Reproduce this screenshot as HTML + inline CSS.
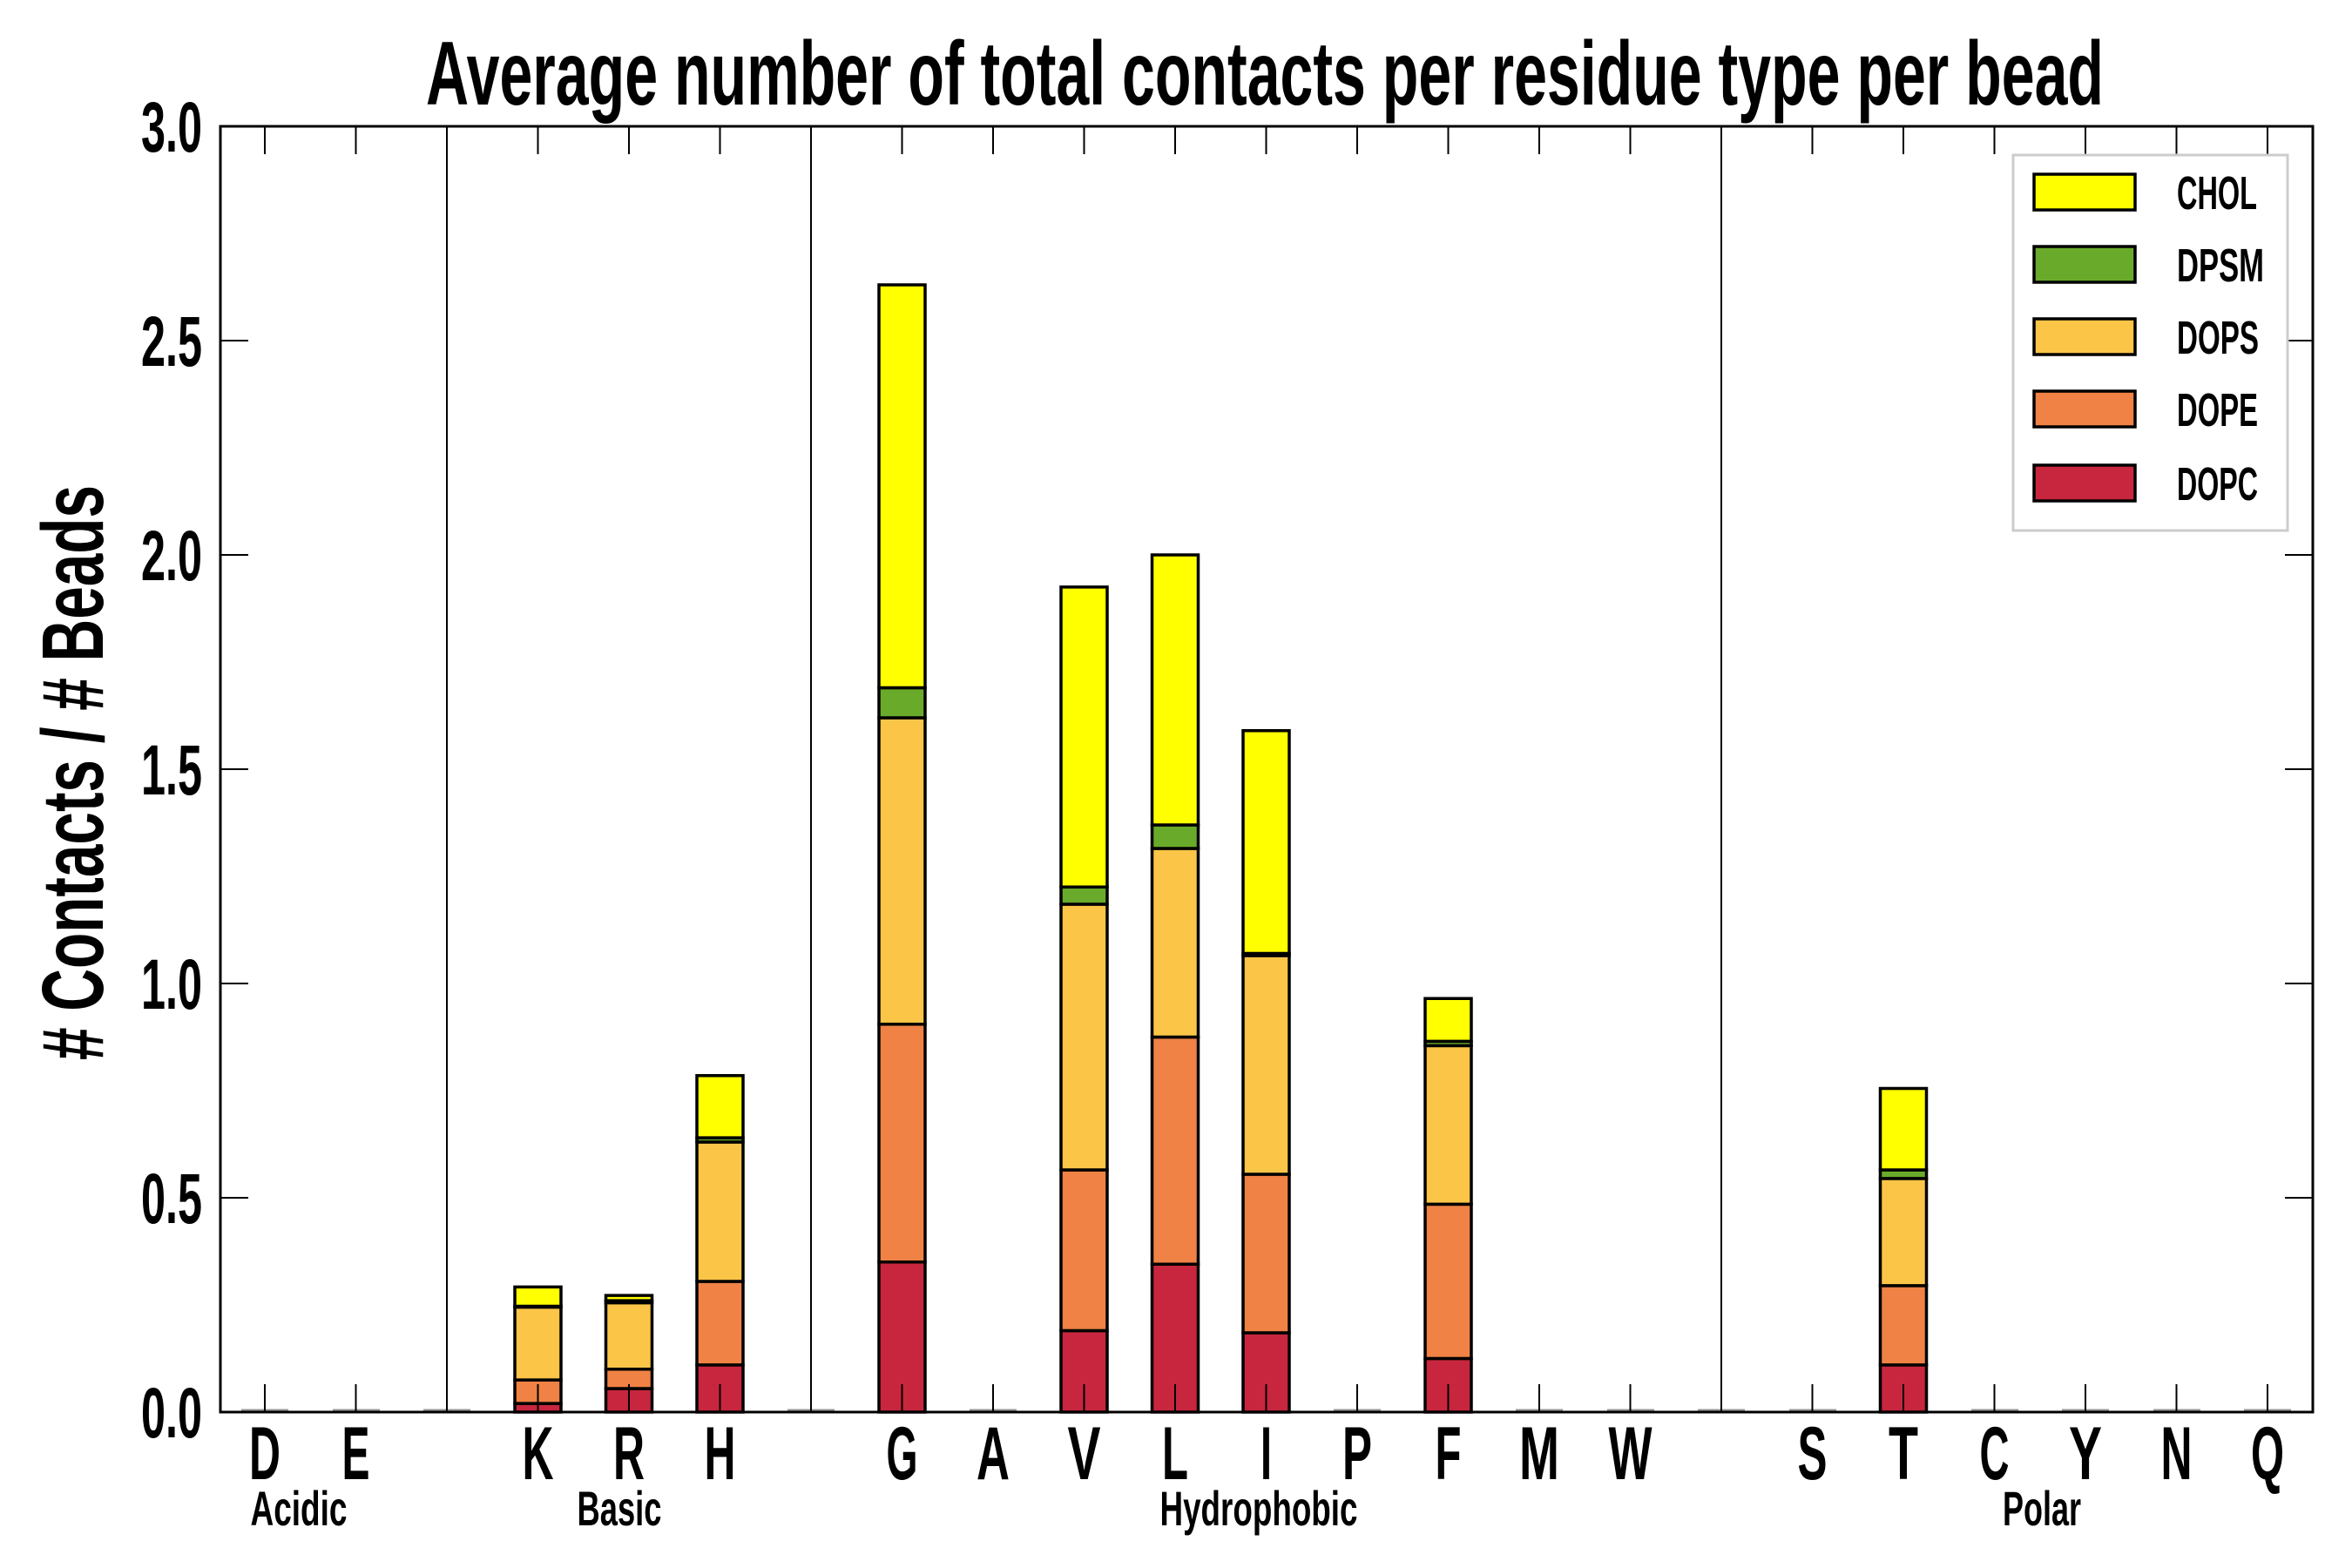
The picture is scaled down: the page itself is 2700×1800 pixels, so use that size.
<!DOCTYPE html>
<html><head><meta charset="utf-8"><style>
html,body{margin:0;padding:0;background:#fff}
svg{display:block}
text{font-family:"Liberation Sans Narrow","Liberation Sans",sans-serif;font-weight:bold;fill:#000}
</style></head><body>
<svg width="2700" height="1800" viewBox="0 0 2700 1800" xmlns="http://www.w3.org/2000/svg">
<rect width="2700" height="1800" fill="#fff"/>
<text x="1452" y="120" font-size="104" text-anchor="middle" textLength="1926" lengthAdjust="spacingAndGlyphs">Average number of total contacts per residue type per bead</text>
<text transform="translate(118,887) rotate(-90)" font-size="100" text-anchor="middle" textLength="660" lengthAdjust="spacingAndGlyphs"># Contacts / # Beads</text>
<g font-size="82" text-anchor="end">
<text x="232" y="174" textLength="70" lengthAdjust="spacingAndGlyphs">3.0</text>
<text x="232" y="420" textLength="70" lengthAdjust="spacingAndGlyphs">2.5</text>
<text x="232" y="666" textLength="70" lengthAdjust="spacingAndGlyphs">2.0</text>
<text x="232" y="912" textLength="70" lengthAdjust="spacingAndGlyphs">1.5</text>
<text x="232" y="1158" textLength="70" lengthAdjust="spacingAndGlyphs">1.0</text>
<text x="232" y="1404" textLength="70" lengthAdjust="spacingAndGlyphs">0.5</text>
<text x="232" y="1650" textLength="70" lengthAdjust="spacingAndGlyphs">0.0</text>
</g>
<g stroke="#999" stroke-width="3">
<line x1="277" x2="331" y1="1619" y2="1619"/><line x1="382" x2="436" y1="1619" y2="1619"/><line x1="486" x2="540" y1="1619" y2="1619"/>
<line x1="904" x2="958" y1="1619" y2="1619"/><line x1="1113" x2="1167" y1="1619" y2="1619"/><line x1="1531" x2="1585" y1="1619" y2="1619"/>
<line x1="1740" x2="1794" y1="1619" y2="1619"/><line x1="1845" x2="1899" y1="1619" y2="1619"/><line x1="1949" x2="2003" y1="1619" y2="1619"/>
<line x1="2054" x2="2108" y1="1619" y2="1619"/><line x1="2263" x2="2317" y1="1619" y2="1619"/><line x1="2367" x2="2421" y1="1619" y2="1619"/>
<line x1="2472" x2="2526" y1="1619" y2="1619"/><line x1="2576" x2="2630" y1="1619" y2="1619"/>
</g>
<g transform="translate(0,1621) scale(1,-492)" stroke="#000" stroke-width="3.5">
<g fill="#c8263e">
<rect vector-effect="non-scaling-stroke" x="591" width="53" y="0" height="0.02"/>
<rect vector-effect="non-scaling-stroke" x="695.5" width="53" y="0" height="0.055"/>
<rect vector-effect="non-scaling-stroke" x="800" width="53" y="0" height="0.11"/>
<rect vector-effect="non-scaling-stroke" x="1009" width="53" y="0" height="0.35"/>
<rect vector-effect="non-scaling-stroke" x="1218" width="53" y="0" height="0.19"/>
<rect vector-effect="non-scaling-stroke" x="1322.5" width="53" y="0" height="0.345"/>
<rect vector-effect="non-scaling-stroke" x="1427" width="53" y="0" height="0.185"/>
<rect vector-effect="non-scaling-stroke" x="1636" width="53" y="0" height="0.125"/>
<rect vector-effect="non-scaling-stroke" x="2158.5" width="53" y="0" height="0.11"/>
</g>
<g fill="#ef8244">
<rect vector-effect="non-scaling-stroke" x="591" width="53" y="0.02" height="0.055"/>
<rect vector-effect="non-scaling-stroke" x="695.5" width="53" y="0.055" height="0.045"/>
<rect vector-effect="non-scaling-stroke" x="800" width="53" y="0.11" height="0.195"/>
<rect vector-effect="non-scaling-stroke" x="1009" width="53" y="0.35" height="0.555"/>
<rect vector-effect="non-scaling-stroke" x="1218" width="53" y="0.19" height="0.375"/>
<rect vector-effect="non-scaling-stroke" x="1322.5" width="53" y="0.345" height="0.53"/>
<rect vector-effect="non-scaling-stroke" x="1427" width="53" y="0.185" height="0.37"/>
<rect vector-effect="non-scaling-stroke" x="1636" width="53" y="0.125" height="0.36"/>
<rect vector-effect="non-scaling-stroke" x="2158.5" width="53" y="0.11" height="0.185"/>
</g>
<g fill="#fbc547">
<rect vector-effect="non-scaling-stroke" x="591" width="53" y="0.075" height="0.17"/>
<rect vector-effect="non-scaling-stroke" x="695.5" width="53" y="0.10" height="0.155"/>
<rect vector-effect="non-scaling-stroke" x="800" width="53" y="0.305" height="0.325"/>
<rect vector-effect="non-scaling-stroke" x="1009" width="53" y="0.905" height="0.715"/>
<rect vector-effect="non-scaling-stroke" x="1218" width="53" y="0.565" height="0.62"/>
<rect vector-effect="non-scaling-stroke" x="1322.5" width="53" y="0.875" height="0.44"/>
<rect vector-effect="non-scaling-stroke" x="1427" width="53" y="0.555" height="0.51"/>
<rect vector-effect="non-scaling-stroke" x="1636" width="53" y="0.485" height="0.37"/>
<rect vector-effect="non-scaling-stroke" x="2158.5" width="53" y="0.295" height="0.25"/>
</g>
<g fill="#6aaa2a">
<rect vector-effect="non-scaling-stroke" x="591" width="53" y="0.245" height="0.002"/>
<rect vector-effect="non-scaling-stroke" x="695.5" width="53" y="0.255" height="0.005"/>
<rect vector-effect="non-scaling-stroke" x="800" width="53" y="0.63" height="0.01"/>
<rect vector-effect="non-scaling-stroke" x="1009" width="53" y="1.62" height="0.07"/>
<rect vector-effect="non-scaling-stroke" x="1218" width="53" y="1.185" height="0.04"/>
<rect vector-effect="non-scaling-stroke" x="1322.5" width="53" y="1.315" height="0.055"/>
<rect vector-effect="non-scaling-stroke" x="1427" width="53" y="1.065" height="0.005"/>
<rect vector-effect="non-scaling-stroke" x="1636" width="53" y="0.855" height="0.01"/>
<rect vector-effect="non-scaling-stroke" x="2158.5" width="53" y="0.545" height="0.02"/>
</g>
<g fill="#ffff00">
<rect vector-effect="non-scaling-stroke" x="591" width="53" y="0.247" height="0.045"/>
<rect vector-effect="non-scaling-stroke" x="695.5" width="53" y="0.26" height="0.012"/>
<rect vector-effect="non-scaling-stroke" x="800" width="53" y="0.64" height="0.145"/>
<rect vector-effect="non-scaling-stroke" x="1009" width="53" y="1.69" height="0.94"/>
<rect vector-effect="non-scaling-stroke" x="1218" width="53" y="1.225" height="0.70"/>
<rect vector-effect="non-scaling-stroke" x="1322.5" width="53" y="1.37" height="0.63"/>
<rect vector-effect="non-scaling-stroke" x="1427" width="53" y="1.07" height="0.52"/>
<rect vector-effect="non-scaling-stroke" x="1636" width="53" y="0.865" height="0.10"/>
<rect vector-effect="non-scaling-stroke" x="2158.5" width="53" y="0.565" height="0.19"/>
</g>
</g>
<g stroke="#000" stroke-width="2">
<line x1="513" x2="513" y1="145" y2="1621"/>
<line x1="931" x2="931" y1="145" y2="1621"/>
<line x1="1976" x2="1976" y1="145" y2="1621"/>
</g>
<g stroke="#000" stroke-width="2">
<path d="M304 145v32M408.5 145v32M722 145v32M617.5 145v32M826.5 145v32M1035.5 145v32M1140 145v32M1244.5 145v32M1349 145v32M1453.5 145v32M1558 145v32M1662.5 145v32M1767 145v32M1871.5 145v32M2080.5 145v32M2185 145v32M2289.5 145v32M2394 145v32M2498.5 145v32M2603 145v32"/>
<path d="M304 1621v-32M408.5 1621v-32M722 1621v-32M617.5 1621v-32M826.5 1621v-32M1035.5 1621v-32M1140 1621v-32M1244.5 1621v-32M1349 1621v-32M1453.5 1621v-32M1558 1621v-32M1662.5 1621v-32M1767 1621v-32M1871.5 1621v-32M2080.5 1621v-32M2185 1621v-32M2289.5 1621v-32M2394 1621v-32M2498.5 1621v-32M2603 1621v-32"/>
<path d="M253 391h32M253 637h32M253 883h32M253 1129h32M253 1375h32M2655 391h-32M2655 637h-32M2655 883h-32M2655 1129h-32M2655 1375h-32"/>
</g>
<rect x="253" y="145" width="2402" height="1476" fill="none" stroke="#000" stroke-width="3"/>
<g font-size="86" text-anchor="middle">
<text x="304" y="1698" textLength="36" lengthAdjust="spacingAndGlyphs">D</text><text x="408.5" y="1698" textLength="32" lengthAdjust="spacingAndGlyphs">E</text>
<text x="617.5" y="1698" textLength="36" lengthAdjust="spacingAndGlyphs">K</text><text x="722" y="1698" textLength="36" lengthAdjust="spacingAndGlyphs">R</text><text x="826.5" y="1698" textLength="36" lengthAdjust="spacingAndGlyphs">H</text>
<text x="1035.5" y="1698" textLength="36" lengthAdjust="spacingAndGlyphs">G</text><text x="1140" y="1698" textLength="38" lengthAdjust="spacingAndGlyphs">A</text><text x="1244.5" y="1698" textLength="38" lengthAdjust="spacingAndGlyphs">V</text><text x="1349" y="1698" textLength="30" lengthAdjust="spacingAndGlyphs">L</text><text x="1453.5" y="1698" textLength="13" lengthAdjust="spacingAndGlyphs">I</text><text x="1558" y="1698" textLength="34" lengthAdjust="spacingAndGlyphs">P</text><text x="1662.5" y="1698" textLength="30" lengthAdjust="spacingAndGlyphs">F</text><text x="1767" y="1698" textLength="46" lengthAdjust="spacingAndGlyphs">M</text><text x="1871.5" y="1698" textLength="50" lengthAdjust="spacingAndGlyphs">W</text>
<text x="2080.5" y="1698" textLength="34" lengthAdjust="spacingAndGlyphs">S</text><text x="2185" y="1698" textLength="34" lengthAdjust="spacingAndGlyphs">T</text><text x="2289.5" y="1698" textLength="34" lengthAdjust="spacingAndGlyphs">C</text><text x="2394" y="1698" textLength="38" lengthAdjust="spacingAndGlyphs">Y</text><text x="2498.5" y="1698" textLength="36" lengthAdjust="spacingAndGlyphs">N</text><text x="2603" y="1698" textLength="38" lengthAdjust="spacingAndGlyphs">Q</text>
</g>
<g font-size="56" text-anchor="middle">
<text x="343" y="1751" textLength="111" lengthAdjust="spacingAndGlyphs">Acidic</text>
<text x="711" y="1751" textLength="97" lengthAdjust="spacingAndGlyphs">Basic</text>
<text x="1445" y="1751" textLength="227" lengthAdjust="spacingAndGlyphs">Hydrophobic</text>
<text x="2344" y="1751" textLength="90" lengthAdjust="spacingAndGlyphs">Polar</text>
</g>
<rect x="2311" y="178" width="315" height="431" fill="#fff" stroke="#ccc" stroke-width="3"/>
<g stroke="#000" stroke-width="3.5">
<rect x="2335" y="200" width="116" height="41" fill="#ffff00"/>
<rect x="2335" y="283" width="116" height="41" fill="#6aaa2a"/>
<rect x="2335" y="366" width="116" height="41" fill="#fbc547"/>
<rect x="2335" y="449" width="116" height="41" fill="#ef8244"/>
<rect x="2335" y="534" width="116" height="41" fill="#c8263e"/>
</g>
<g font-size="54">
<text x="2499" y="240" textLength="92" lengthAdjust="spacingAndGlyphs">CHOL</text>
<text x="2499" y="323" textLength="100" lengthAdjust="spacingAndGlyphs">DPSM</text>
<text x="2499" y="406" textLength="94" lengthAdjust="spacingAndGlyphs">DOPS</text>
<text x="2499" y="489" textLength="93" lengthAdjust="spacingAndGlyphs">DOPE</text>
<text x="2499" y="574" textLength="93" lengthAdjust="spacingAndGlyphs">DOPC</text>
</g>
</svg>
</body></html>
